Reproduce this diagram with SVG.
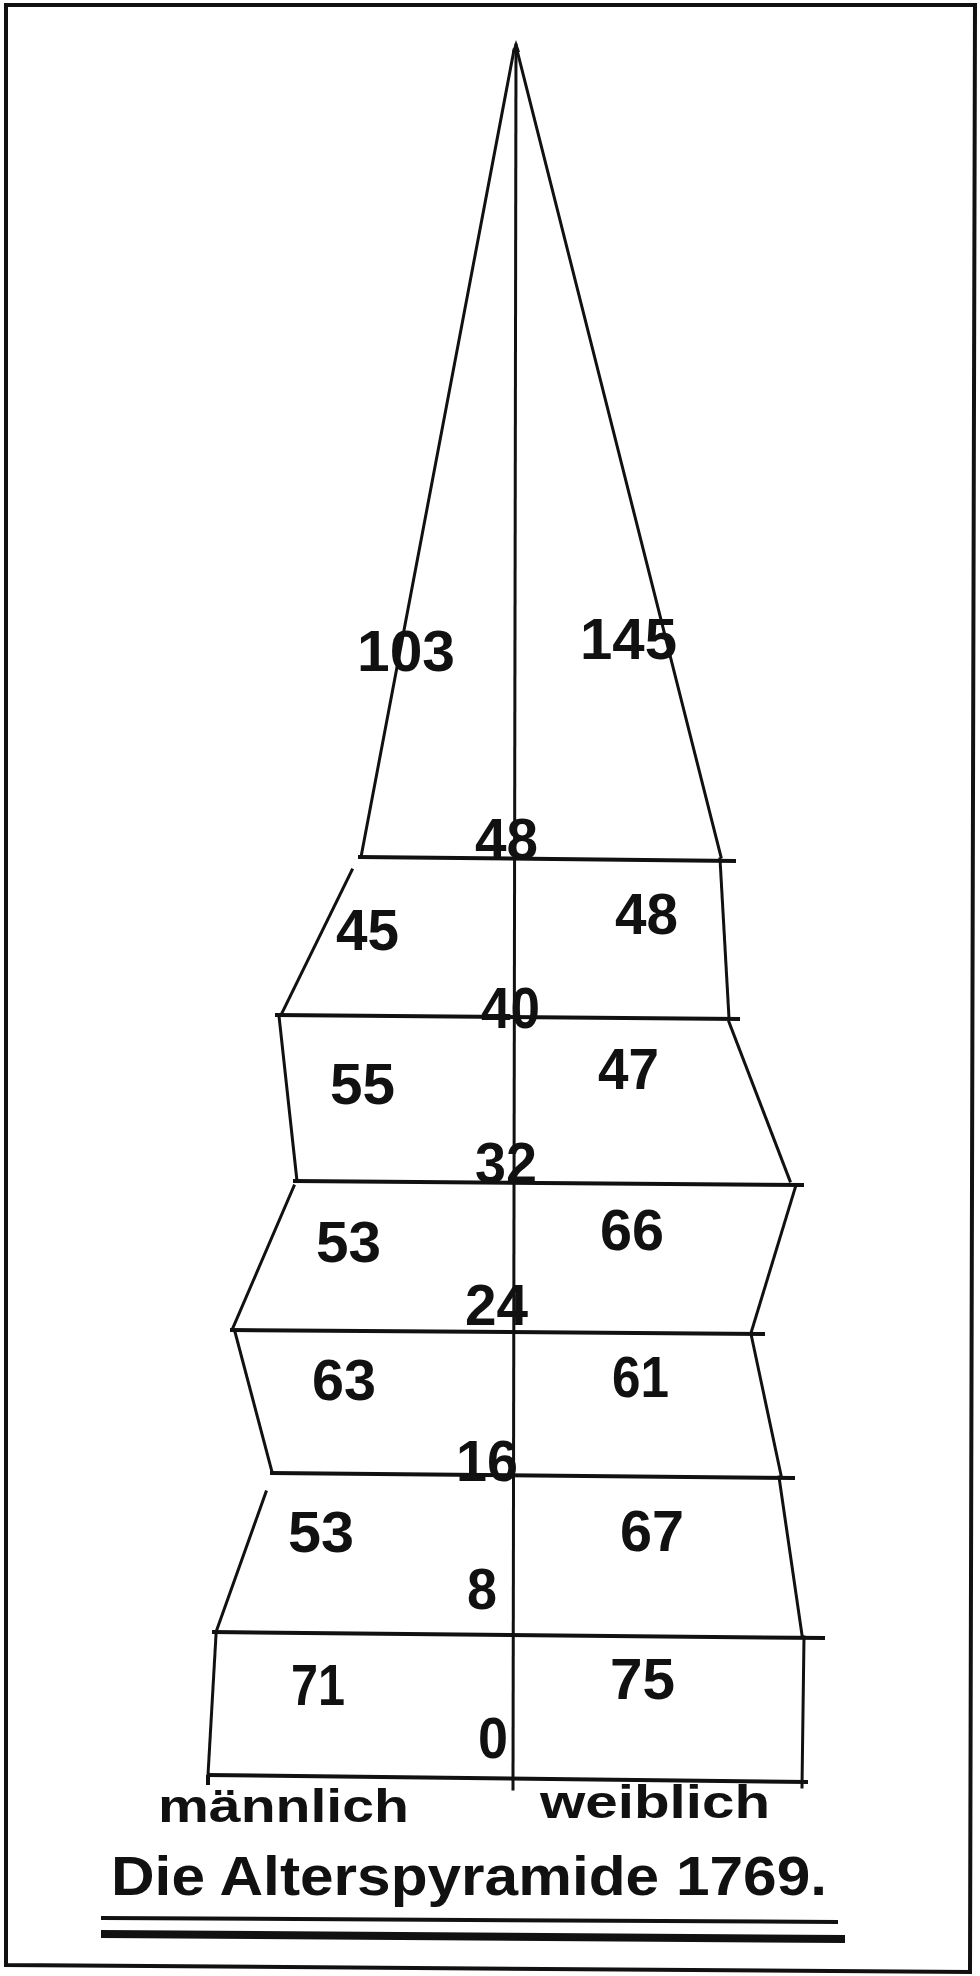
<svg xmlns="http://www.w3.org/2000/svg" width="980" height="1976" viewBox="0 0 980 1976">
<style>
.ln{stroke:#111;stroke-width:3;fill:none;stroke-linecap:square}
.hl{stroke:#111;stroke-width:4;fill:none}
.num{font-family:"Liberation Sans",Arial,sans-serif;font-weight:bold;font-size:58px;fill:#111}
.lab{font-family:"Liberation Sans",Arial,sans-serif;font-weight:bold;font-size:46px;fill:#111}
.ttl{font-family:"Liberation Sans",Arial,sans-serif;font-weight:bold;font-size:56px;fill:#111}
</style>
<rect width="980" height="1976" fill="#fff"/>
<g id="frame">
<polygon points="6,5 975,5 970,1972 6,1965" fill="none" stroke="#111" stroke-width="4"/>
</g>
<g id="connectors">
<line id="axis" class="ln" x1="516" y1="45" x2="513" y2="1789"/>
<path id="apex" d="M512,52 L516,40 L520,52 Z" fill="#111"/>
<g id="outline-left">
<line class="ln" x1="514" y1="50" x2="361" y2="857"/>
<line class="ln" x1="352" y1="870" x2="281" y2="1015"/>
<line class="ln" x1="279" y1="1016" x2="297" y2="1181"/>
<line class="ln" x1="294" y1="1186" x2="232" y2="1330"/>
<line class="ln" x1="235" y1="1332" x2="272" y2="1472"/>
<line class="ln" x1="266" y1="1492" x2="216" y2="1632"/>
<line class="ln" x1="216" y1="1635" x2="208" y2="1775"/>
</g>
<g id="outline-right">
<line class="ln" x1="517" y1="50" x2="721" y2="857"/>
<line class="ln" x1="720" y1="859" x2="729" y2="1018"/>
<line class="ln" x1="729" y1="1022" x2="790" y2="1181"/>
<line class="ln" x1="796" y1="1185" x2="751" y2="1333"/>
<line class="ln" x1="751" y1="1334" x2="781" y2="1475"/>
<line class="ln" x1="779" y1="1477" x2="802" y2="1635"/>
<line class="ln" x1="804" y1="1637" x2="802" y2="1787"/>
</g>
<g id="age-lines">
<line class="hl" x1="358" y1="857" x2="736" y2="861"/>
<line class="hl" x1="275" y1="1015" x2="740" y2="1019"/>
<line class="hl" x1="293" y1="1181" x2="804" y2="1185"/>
<line class="hl" x1="230" y1="1330" x2="765" y2="1334"/>
<line class="hl" x1="270" y1="1473" x2="795" y2="1478"/>
<line class="hl" x1="212" y1="1632" x2="825" y2="1638"/>
<line class="hl" x1="207" y1="1775" x2="808" y2="1782"/>
<line class="hl" x1="208" y1="1775" x2="208" y2="1785" stroke-width="6"/>
</g>
</g>
<g id="band-top">
<text class="num" x="357" y="671" textLength="98" lengthAdjust="spacingAndGlyphs">103</text>
<text class="num" x="580" y="659" textLength="97" lengthAdjust="spacingAndGlyphs">145</text>
</g>
<g id="band-40-48">
<text class="num" x="475" y="859" textLength="63" lengthAdjust="spacingAndGlyphs">48</text>
<text class="num" x="336" y="950" textLength="63" lengthAdjust="spacingAndGlyphs">45</text>
<text class="num" x="615" y="934" textLength="63" lengthAdjust="spacingAndGlyphs">48</text>
</g>
<g id="band-32-40">
<text class="num" x="481" y="1028" textLength="59" lengthAdjust="spacingAndGlyphs">40</text>
<text class="num" x="330" y="1104" textLength="65" lengthAdjust="spacingAndGlyphs">55</text>
<text class="num" x="598" y="1089" textLength="61" lengthAdjust="spacingAndGlyphs">47</text>
</g>
<g id="band-24-32">
<text class="num" x="475" y="1183" textLength="62" lengthAdjust="spacingAndGlyphs">32</text>
<text class="num" x="316" y="1262" textLength="65" lengthAdjust="spacingAndGlyphs">53</text>
<text class="num" x="600" y="1250" textLength="64" lengthAdjust="spacingAndGlyphs">66</text>
</g>
<g id="band-16-24">
<text class="num" x="465" y="1325" textLength="63" lengthAdjust="spacingAndGlyphs">24</text>
<text class="num" x="312" y="1400" textLength="64" lengthAdjust="spacingAndGlyphs">63</text>
<text class="num" x="612" y="1397" textLength="57" lengthAdjust="spacingAndGlyphs">61</text>
</g>
<g id="band-8-16">
<text class="num" x="456" y="1481" textLength="62" lengthAdjust="spacingAndGlyphs">16</text>
<text class="num" x="288" y="1552" textLength="66" lengthAdjust="spacingAndGlyphs">53</text>
<text class="num" x="620" y="1551" textLength="64" lengthAdjust="spacingAndGlyphs">67</text>
</g>
<g id="band-0-8">
<text class="num" x="467" y="1609" textLength="30" lengthAdjust="spacingAndGlyphs">8</text>
<text class="num" x="291" y="1705" textLength="54" lengthAdjust="spacingAndGlyphs">71</text>
<text class="num" x="610" y="1699" textLength="65" lengthAdjust="spacingAndGlyphs">75</text>
<text class="num" x="478" y="1758" textLength="30" lengthAdjust="spacingAndGlyphs">0</text>
</g>
<g id="sex-labels">
<text class="lab" x="158" y="1822" textLength="251" lengthAdjust="spacingAndGlyphs">männlich</text>
<text class="lab" x="540" y="1818" textLength="230" lengthAdjust="spacingAndGlyphs">weiblich</text>
</g>
<g id="title">
<text class="ttl" x="111" y="1895" textLength="716" lengthAdjust="spacingAndGlyphs">Die Alterspyramide 1769.</text>
<line x1="101" y1="1918" x2="838" y2="1922" stroke="#111" stroke-width="4"/>
<line x1="101" y1="1934" x2="845" y2="1939" stroke="#111" stroke-width="8"/>
</g>
</svg>
